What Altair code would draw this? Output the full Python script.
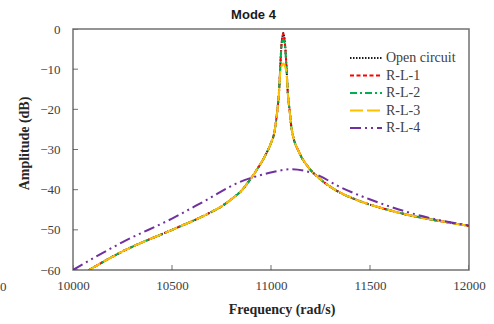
import altair as alt
import pandas as pd

# Frequency (rad/s) and amplitude (dB) read for each configuration
freq_main = [10080, 10253, 10500, 10673, 10758, 10817, 10850, 10884, 10934, 10960,
             10985, 11000, 11019, 11032, 11040, 11046, 11052, 11058, 11062, 11066,
             11072, 11079, 11085, 11094, 11104, 11145, 11187, 11254, 11322, 11420,
             11498, 11590, 11684, 11852, 12000]

amp_open = [-60.0, -55.3, -50.0, -46.2, -43.9, -41.7, -40.3, -38.2, -34.6, -32.5,
            -30.1, -28.4, -25.2, -20.2, -16.0, -10.3, -4.5, -1.8, -1.0, -1.8,
            -4.5, -10.3, -16.0, -20.2, -24.8, -31.0, -34.3, -37.6, -40.0, -42.3,
            -43.7, -45.0, -46.2, -47.8, -49.0]

amp_rl1 = [-60.0, -55.3, -50.0, -46.2, -43.9, -41.7, -40.3, -38.2, -34.6, -32.5,
           -30.1, -28.4, -25.2, -20.2, -16.0, -10.3, -4.5, -1.8, -1.0, -1.8,
           -4.5, -10.3, -16.0, -20.2, -24.8, -31.0, -34.3, -37.6, -40.0, -42.3,
           -43.7, -45.0, -46.2, -47.8, -49.0]

amp_rl2 = [-60.0, -55.3, -50.0, -46.2, -43.9, -41.7, -40.3, -38.2, -34.6, -32.5,
           -30.1, -28.4, -25.2, -20.2, -16.0, -10.4, -4.9, -3.0, -2.7, -3.0,
           -4.9, -10.4, -16.0, -20.2, -24.8, -31.0, -34.3, -37.6, -40.0, -42.3,
           -43.7, -45.0, -46.2, -47.8, -49.0]

amp_rl3 = [-60.0, -55.3, -50.0, -46.2, -43.9, -41.7, -40.3, -38.2, -34.6, -32.5,
           -30.1, -28.4, -25.2, -20.3, -16.2, -11.2, -9.5, -8.8, -8.6, -8.8,
           -9.5, -11.2, -16.2, -20.3, -24.8, -31.0, -34.3, -37.6, -40.0, -42.3,
           -43.7, -45.0, -46.2, -47.8, -49.0]

freq_rl4 = [10000, 10253, 10500, 10673, 10842, 10892, 10960, 11010, 11103, 11178,
            11237, 11347, 11498, 11684, 11852, 12000]
amp_rl4 = [-60.0, -53.0, -47.2, -42.6, -38.1, -37.2, -36.2, -35.6, -34.9, -35.4,
           -36.4, -39.3, -42.4, -45.5, -47.6, -48.9]

series = ["Open circuit", "R-L-1", "R-L-2", "R-L-3", "R-L-4"]
colors = ["#1a1a1a", "#ff0000", "#00b050", "#ffc000", "#7030a0"]
dashes = [[1.5, 1.5], [4, 2.5], [7, 3, 2, 3], [13, 4], [11, 4, 2, 4, 2, 4]]

x_ticks = [10000, 10500, 11000, 11500, 12000]
y_ticks = [0, -10, -20, -30, -40, -50, -60]

rows = []
for name, fr, am in [("Open circuit", freq_main, amp_open),
                     ("R-L-1", freq_main, amp_rl1),
                     ("R-L-2", freq_main, amp_rl2),
                     ("R-L-3", freq_main, amp_rl3),
                     ("R-L-4", freq_rl4, amp_rl4)]:
    for i, (f, a) in enumerate(zip(fr, am)):
        rows.append({"series": name, "freq": f, "amp": a, "order": i})
df = pd.DataFrame(rows)

serif = "Liberation Serif"
frame = "#404040"

x_scale = alt.Scale(domain=[x_ticks[0], x_ticks[-1]], nice=False)
y_scale = alt.Scale(domain=[y_ticks[-1], y_ticks[0]], nice=False)

x_axis = alt.Axis(
    values=x_ticks, format="d",
    title="Frequency (rad/s)", titleFont=serif, titleFontSize=14,
    titleFontWeight="bold", titleColor="#262626",
    titleX=208.5, titleY=43.5, titleBaseline="alphabetic", titleAlign="center",
    labelFont=serif, labelFontSize=13, labelColor="#404040", labelPadding=9,
    labelFlush=False, labelOverlap=False,
    ticks=False, domain=False, grid=False,
)
y_axis = alt.Axis(
    values=y_ticks,
    title="Amplitude (dB)", titleFont=serif, titleFontSize=14,
    titleFontWeight="bold", titleColor="#262626",
    titleX=-44.5, titleY=114, titleAngle=270, titleBaseline="alphabetic",
    titleAlign="center",
    labelFont=serif, labelFontSize=13, labelColor="#404040", labelPadding=13,
    labelFlush=False, labelOverlap=False,
    ticks=False, domain=False, grid=False,
)

legend = alt.Legend(
    title=None, orient="none", legendX=276, legendY=21,
    symbolType="stroke", symbolSize=1024, symbolStrokeWidth=2,
    labelFont=serif, labelFontSize=14, labelColor="#404040", labelOffset=3,
    clipHeight=16, rowPadding=1.5,
)

lines = alt.Chart(df).mark_line(strokeWidth=2, clip=True, interpolate="monotone").encode(
    x=alt.X("freq:Q", scale=x_scale, axis=x_axis),
    y=alt.Y("amp:Q", scale=y_scale, axis=y_axis),
    color=alt.Color("series:N", scale=alt.Scale(domain=series, range=colors), legend=legend),
    strokeDash=alt.StrokeDash("series:N", scale=alt.Scale(domain=series, range=dashes), legend=legend),
    order="order:Q",
)

# plot border
border = alt.Chart(pd.DataFrame({"k": [0]})).mark_rect(
    filled=False, stroke=frame, strokeWidth=1.5, strokeOpacity=0.75
).encode(
    x=alt.datum(x_ticks[0], scale=x_scale), x2=alt.datum(x_ticks[-1]),
    y=alt.datum(y_ticks[-1], scale=y_scale), y2=alt.datum(y_ticks[0]),
)

# inward tick marks (outer halves clipped away)
x_tick_marks = alt.Chart(pd.DataFrame({"v": x_ticks})).mark_tick(
    orient="vertical", size=10, thickness=1, color=frame, opacity=0.75, clip=True
).encode(x=alt.X("v:Q", scale=x_scale), y=alt.datum(y_ticks[-1]))

y_tick_marks = alt.Chart(pd.DataFrame({"v": y_ticks})).mark_tick(
    orient="horizontal", size=10, thickness=1, color=frame, opacity=0.75, clip=True
).encode(y=alt.Y("v:Q", scale=y_scale), x=alt.datum(x_ticks[0]))

stray = alt.Chart(pd.DataFrame({"t": ["0"]})).mark_text(
    font=serif, fontSize=13, color="#404040", align="right", baseline="alphabetic"
).encode(text="t:N", x=alt.value(-66.5), y=alt.value(262))

chart = alt.layer(x_tick_marks, y_tick_marks, lines, border, stray).properties(
    width=396, height=241,
    title=alt.TitleParams("Mode 4", font="Liberation Sans", fontSize=13,
                          fontWeight="bold", color="#1a1a1a", offset=1.5,
                          dx=-17.5),
    padding={"left": 0, "top": 8, "right": 0, "bottom": 0},
).configure_view(stroke=None)

chart.save("out.html", embed_options={"renderer": "svg", "actions": False})
